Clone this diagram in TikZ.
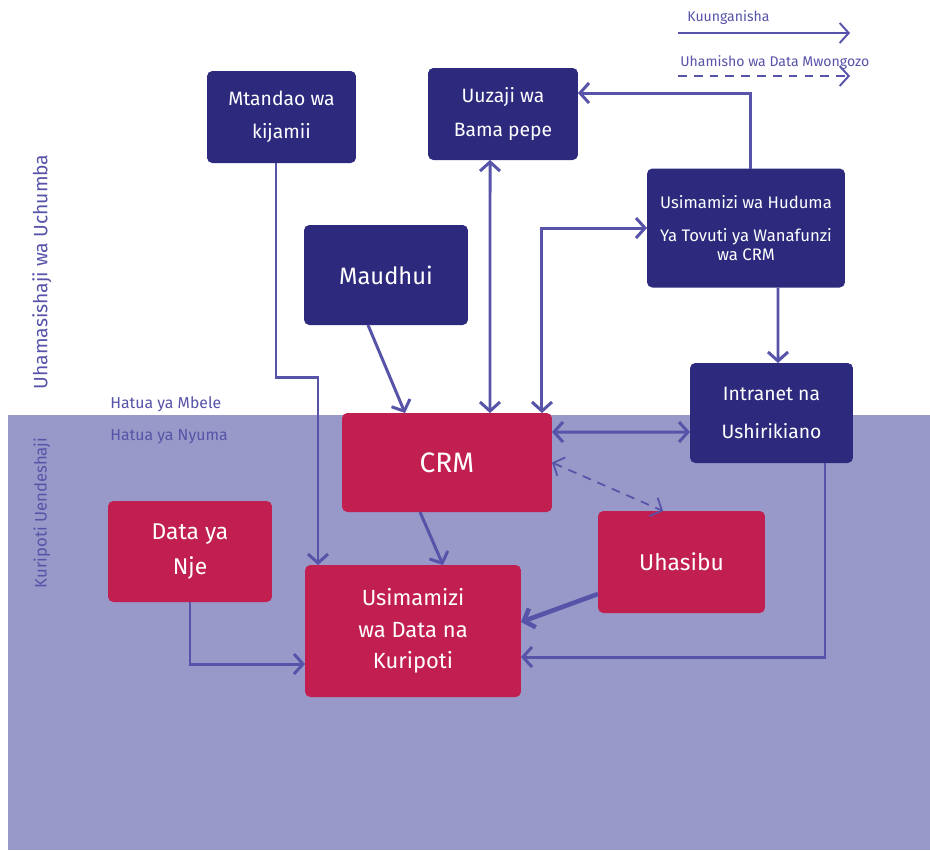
\documentclass[tikz,border=0pt]{standalone}
\usepackage{fontspec}
\setmainfont{Fira Sans}
\usetikzlibrary{arrows.meta}
\definecolor{navy}{HTML}{2D2A7E}
\definecolor{crimson}{HTML}{C21F51}
\definecolor{lavender}{HTML}{9899C8}
\definecolor{linkc}{HTML}{5753A9}
\begin{document}
\begin{tikzpicture}[x=0.02cm, y=-0.02cm, >={Straight Barb[length=1.8mm, width=4mm]},
		box/.style={rounded corners=3pt, inner sep=0pt, outer sep=0pt, align=center, text=white, font=\fontsize{11}{19}\selectfont},
		upper/.style={box, fill=navy},
		lower/.style={box, fill=crimson},
		link/.style={draw=linkc, line width=1.7pt, ->},
		both/.style={link, <->},
		tag/.style={text=linkc, inner sep=0pt, font=\fontsize{8}{10}\selectfont}]
		\useasboundingbox (0,0) rectangle (930,850);
		\fill[white] (0,0) rectangle (930,850);
		\fill[lavender] (8,415) rectangle (930,850);
		% legend
		\node[tag, anchor=west] (lgjoin) at (687,18) {Kuunganisha};
		\node[tag, anchor=west] (lgflow) at (680,63) {Uhamisho wa Data Mwongozo};
		\coordinate (lgja) at (678,33); \coordinate (lgjb) at (850,33);
		\coordinate (lgfa) at (678,76); \coordinate (lgfb) at (850,76);
		\draw[draw=linkc, line width=1.1pt, ->] (lgja) -- (lgjb);
		\draw[draw=linkc, line width=1.1pt, ->, dash pattern=on 5pt off 4pt] (lgfa) -- (lgfb);
		% side labels
		\node[tag, rotate=90, font=\fontsize{11}{12}\selectfont] (engage) at (42,272) {Uhamasishaji wa Uchumba};
		\node[tag, rotate=90, font=\fontsize{9.5}{11}\selectfont] (report) at (42,513) {Kuripoti Uendeshaji};
		\node[tag, anchor=west, font=\fontsize{9}{11}\selectfont] (front) at (110,404) {Hatua ya Mbele};
		\node[tag, anchor=west, font=\fontsize{9}{11}\selectfont] (back) at (110,437) {Hatua ya Nyuma};
		% boxes
		\node[upper, minimum width=2.98cm, minimum height=1.84cm] (mtandao) at (281.5,117) {Mtandao wa\\kijamii};
		\node[upper, minimum width=3cm, minimum height=1.84cm] (uuzaji) at (503,114) {Uuzaji wa\\Bama pepe};
		\node[upper, minimum width=3.28cm, minimum height=2cm, font=\fontsize{13.5}{16}\selectfont] (maudhui) at (386,275) {Maudhui};
		\node[upper, minimum width=3.96cm, minimum height=2.38cm, font=\fontsize{9.5}{11}\selectfont] (huduma) at (746,228) {Usimamizi wa Huduma\\[8pt]Ya Tovuti ya Wanafunzi\\wa CRM};
		\node[upper, minimum width=3.26cm, minimum height=2cm, font=\fontsize{11}{22}\selectfont] (intranet) at (771.5,413) {Intranet na\\Ushirikiano};
		\node[lower, minimum width=4.2cm, minimum height=1.98cm, font=\fontsize{16}{18}\selectfont] (crm) at (447,462.5) {CRM};
		\node[lower, minimum width=3.28cm, minimum height=2.02cm, font=\fontsize{13}{20}\selectfont] (nje) at (190,551.5) {Data ya\\Nje};
		\node[lower, minimum width=3.34cm, minimum height=2.04cm, font=\fontsize{13}{16}\selectfont] (uhasibu) at (681.5,562) {Uhasibu};
		\node[lower, minimum width=4.32cm, minimum height=2.64cm, font=\fontsize{12.5}{18}\selectfont] (ripoti) at (413,631) {Usimamizi\\wa Data na\\Kuripoti};
		% connectors
		\coordinate (mtbend) at (318,377);
		\draw[link] ([xshift=-0.11cm]mtandao.south) |- (mtbend) -- (mtbend |- ripoti.north);
		\draw[link] ([xshift=-0.36cm]maudhui.south) -- ([xshift=-0.84cm]crm.north);
		\draw[both] ([xshift=-0.26cm]uuzaji.south) -- ([xshift=0.86cm]crm.north);
		\draw[both] ([xshift=1.9cm]crm.north) |- (huduma.west);
		\draw[link] ([xshift=0.08cm]huduma.north) |- ([yshift=0.42cm]uuzaji.east);
		\draw[link] ([xshift=0.64cm]huduma.south) -- ([xshift=0.13cm]intranet.north);
		\draw[both] ([yshift=0.61cm]crm.east) -- ([yshift=-0.38cm]intranet.west);
		\draw[both, line width=1pt, dash pattern=on 5pt off 4pt] (crm.east) -- ([xshift=-0.37cm]uhasibu.north);
		\draw[link] ([xshift=1.07cm]intranet.south) |- ([yshift=-0.52cm]ripoti.east);
		\draw[link, line width=2.6pt] ([yshift=-0.64cm]uhasibu.west) -- ([yshift=0.18cm]ripoti.east);
		\draw[link] ([xshift=-0.54cm]crm.south) -- ([xshift=0.6cm]ripoti.north);
		\draw[link] (nje.south) |- ([yshift=-0.66cm]ripoti.west);
	\end{tikzpicture}
\end{document}
